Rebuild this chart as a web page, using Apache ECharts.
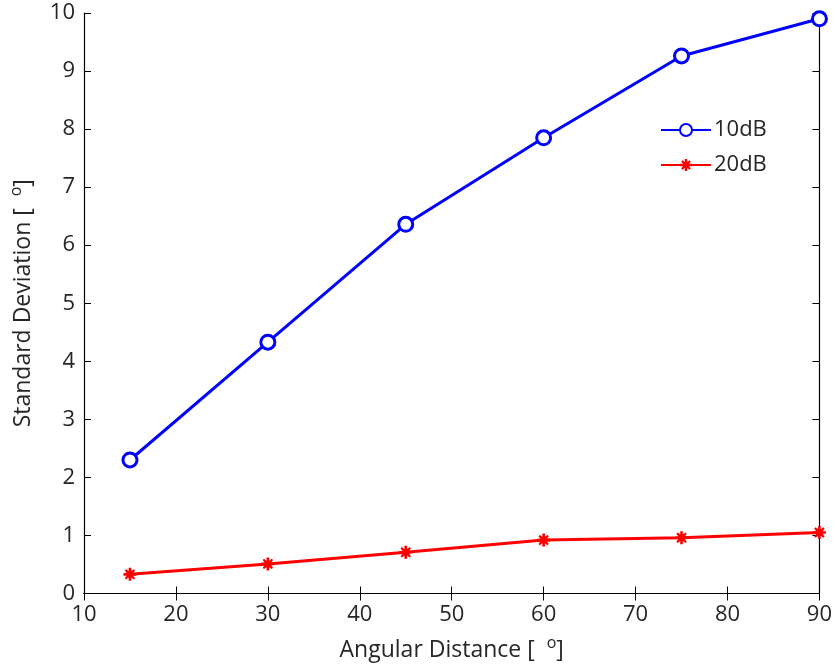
<!DOCTYPE html>
<html><head><meta charset="utf-8">
<script src="https://cdn.jsdelivr.net/npm/echarts@6/dist/echarts.min.js"></script>
<style>html,body{margin:0;padding:0;background:#fff}#c{width:835px;height:667px}</style>
</head><body><div id="c"></div>
<script>
const angles = [15, 30, 45, 60, 75, 90];
const sd10dB = [2.30, 4.33, 6.36, 7.85, 9.26, 9.90];
const sd20dB = [0.33, 0.51, 0.71, 0.92, 0.96, 1.05];
const seriesNames = ['10dB', '20dB'];
const xTicks = {min: 10, max: 90, interval: 10};
const yTicks = {min: 0, max: 10, interval: 1};

const FONT = '"Open Sans", "Noto Sans", sans-serif';
const TXT = '#262626';
const star = 'path://M8,0 L12,0 L12,5 L16,2 L18,4 L15,8 L20,8 L20,12 L15,12 L18,16 L16,18 L12,15 L12,20 L8,20 L8,15 L4,18 L2,16 L5,12 L0,12 L0,8 L5,8 L2,4 L4,2 L8,5 Z';

const chart = echarts.init(document.getElementById('c'));
const axisLine = {show: true, lineStyle: {color: '#000', width: 1.2}};
const tick = {show: true, inside: true, length: 7, lineStyle: {color: '#000', width: 1}};
const titleStyle = {fontSize: 23, color: TXT, fontFamily: FONT,
  rich: {s: {fontSize: 16, verticalAlign: 'top', padding: [0,0,14,0], color: TXT, fontFamily: FONT}}};
chart.setOption({
  animation: false,
  textStyle: {fontFamily: FONT},
  grid: {left: 82, top: 13, width: 738, height: 581, containLabel: false},
  legend: {
    left: 655, top: 114, orient: 'vertical', itemGap: 13,
    itemWidth: 50, itemHeight: 15,
    textStyle: {fontSize: 22, color: TXT, fontFamily: FONT, padding: [0,0,0,-2]},
    data: seriesNames
  },
  xAxis: [{
    type: 'value', min: xTicks.min, max: xTicks.max, interval: xTicks.interval,
    axisLine, axisTick: tick, splitLine: {show: false},
    axisLabel: {fontSize: 22, color: TXT, margin: 10, fontFamily: FONT},
    name: 'Angular Distance [  {s|o}]', nameLocation: 'middle', nameGap: 42,
    nameTextStyle: titleStyle
  }, {
    type: 'value', position: 'top', min: xTicks.min, max: xTicks.max, interval: xTicks.interval,
    axisLine, axisTick: tick, axisLabel: {show: false}, splitLine: {show: false}
  }],
  yAxis: [{
    type: 'value', min: yTicks.min, max: yTicks.max, interval: yTicks.interval,
    axisLine, axisTick: tick, splitLine: {show: false},
    axisLabel: {fontSize: 22, color: TXT, margin: 9, fontFamily: FONT},
    name: 'Standard Deviation [  {s|o}]', nameLocation: 'middle', nameGap: 46,
    nameTextStyle: titleStyle
  }, {
    type: 'value', position: 'right', min: yTicks.min, max: yTicks.max, interval: yTicks.interval,
    axisLine, axisTick: tick, axisLabel: {show: false}, splitLine: {show: false}
  }],
  series: [{
    name: seriesNames[0], type: 'line',
    data: angles.map((a, i) => [a, sd10dB[i]]),
    lineStyle: {color: '#0000ff', width: 3},
    itemStyle: {color: '#fff', borderColor: '#0000ff', borderWidth: 3},
    symbol: 'circle', symbolSize: 14, showAllSymbol: true
  }, {
    name: seriesNames[1], type: 'line',
    data: angles.map((a, i) => [a, sd20dB[i]]),
    lineStyle: {color: '#ff0000', width: 3},
    itemStyle: {color: '#ff0000', borderColor: '#ff0000', borderWidth: 0},
    symbol: star, symbolSize: 13, showAllSymbol: true
  }]
});
</script></body></html>
